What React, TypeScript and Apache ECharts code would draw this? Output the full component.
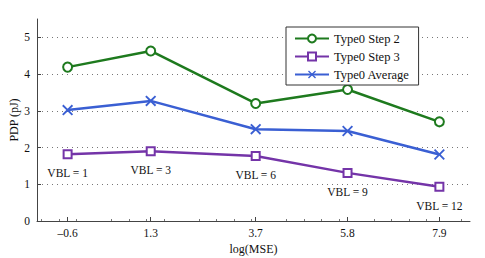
import React, { useEffect, useRef } from "react";
import * as echarts from "echarts";

const logMSE = [-0.6, 1.3, 3.7, 5.8, 7.9];
const step2 = [4.19, 4.63, 3.2, 3.58, 2.7];
const step3 = [1.82, 1.9, 1.77, 1.31, 0.93];
const average = [3.02, 3.27, 2.5, 2.45, 1.81];
const vblLabels = ["VBL = 1", "VBL = 3", "VBL = 6", "VBL = 9", "VBL = 12"];
const yTicks = [0, 1, 2, 3, 4, 5];
const seriesNames = ["Type0 Step 2", "Type0 Step 3", "Type0 Average"];

const FONT = "Liberation Serif";
const X_SYMBOL =
  "path://M0,1.2 L1.2,0 L5,3.8 L8.8,0 L10,1.2 L6.2,5 L10,8.8 L8.8,10 L5,6.2 L1.2,10 L0,8.8 L3.8,5 Z";

export default function App() {
  const ref = useRef<HTMLDivElement>(null);
  useEffect(() => {
    if (!ref.current) return;
    const chart = echarts.init(ref.current, undefined, { renderer: "svg" });
    const pts = (ys: number[]) => ys.map((y, i) => [logMSE[i], y]);
    chart.setOption({
      animation: false,
      backgroundColor: "#fff",
      textStyle: { fontFamily: FONT },
      grid: { left: 37, right: 15, top: 19, bottom: 37, outerBoundsMode: "none", containLabel: false },
      legend: {
        orient: "vertical",
        left: 286,
        top: 27,
        width: 130,
        z: 20,
        itemWidth: 34,
        itemHeight: 10,
        itemGap: 5,
        padding: [5, 9, 4, 8],
        backgroundColor: "#fff",
        borderColor: "#333",
        borderWidth: 1,
        textStyle: { fontFamily: FONT, fontSize: 12.5, color: "#111" },
        data: seriesNames,
      },
      xAxis: {
        type: "value",
        min: -1.3,
        max: 8.6,
        name: "log(MSE)",
        nameLocation: "middle",
        nameGap: 22,
        nameMoveOverlap: false,
        nameTextStyle: { fontFamily: FONT, fontSize: 12, color: "#111" },
        axisLine: { onZero: false, lineStyle: { color: "#444", width: 1 } },
        axisTick: {
          inside: true,
          length: 4,
          customValues: logMSE,
          lineStyle: { color: "#444" },
        },
        minorTick: { show: true, splitNumber: 5, length: 2, lineStyle: { color: "#777" } },
        axisLabel: {
          customValues: logMSE,
          formatter: (v: number) => (v < 0 ? "\u2013" + Math.abs(v) : String(v)),
          fontFamily: FONT,
          fontSize: 11.5,
          color: "#111",
          margin: 6,
        },
        splitLine: { show: false },
      },
      yAxis: {
        type: "value",
        min: 0,
        max: 5.5,
        name: "PDP (pJ)",
        nameLocation: "middle",
        nameGap: 17,
        nameMoveOverlap: false,
        nameTextStyle: { fontFamily: FONT, fontSize: 12, color: "#111" },
        axisLine: { show: true, onZero: false, lineStyle: { color: "#444", width: 1 } },
        axisTick: {
          show: true,
          inside: true,
          length: 4,
          customValues: yTicks,
          lineStyle: { color: "#444" },
        },
        axisLabel: {
          customValues: yTicks,
          fontFamily: FONT,
          fontSize: 11.5,
          color: "#111",
          margin: 7,
        },
        splitLine: { show: false },
      },
      series: [
        {
          name: seriesNames[0],
          type: "line",
          data: pts(step2),
          color: "#1e7a1e",
          lineStyle: { width: 2.5 },
          symbol: "emptyCircle",
          symbolSize: 9,
          itemStyle: { borderWidth: 2.5 },
          z: 3,
        },
        {
          name: seriesNames[1],
          type: "line",
          data: pts(step3),
          color: "#7434a8",
          lineStyle: { width: 2.5 },
          symbol: "emptyRect",
          symbolSize: 8,
          itemStyle: { borderWidth: 2.5 },
          label: {
            show: true,
            position: "bottom",
            distance: 8,
            formatter: (p: any) => vblLabels[p.dataIndex],
            fontFamily: FONT,
            fontSize: 11.5,
            color: "#111",
          },
          z: 3,
        },
        {
          name: seriesNames[2],
          type: "line",
          data: pts(average),
          color: "#3a5fd3",
          lineStyle: { width: 2.5 },
          symbol: X_SYMBOL,
          symbolSize: 11,
          z: 3,
        },
        {
          type: "line",
          data: [],
          silent: true,
          z: 0,
          markLine: {
            silent: true,
            symbol: "none",
            z: 0,
            label: { show: false },
            lineStyle: { type: [1, 4], color: "#777", width: 1 },
            data: yTicks.filter((v) => v > 0).map((v) => ({ yAxis: v })),
          },
        },
      ],
    });
    return () => chart.dispose();
  }, []);
  return (
    <div
      ref={ref}
      style={{ position: "fixed", left: 0, top: 0, width: 485, height: 258 }}
    />
  );
}
